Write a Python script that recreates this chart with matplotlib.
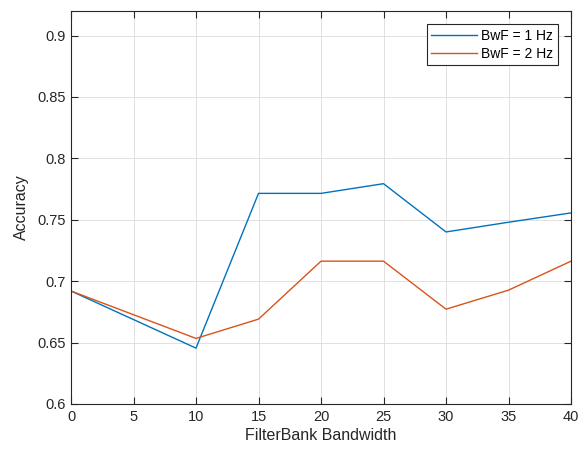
import matplotlib.pyplot as plt

# data
bandwidth = [0, 10, 15, 20, 25, 30, 35, 40]
acc_1hz = [0.692, 0.6455, 0.7715, 0.7715, 0.7794, 0.7401, 0.748, 0.7556]
acc_2hz = [0.692, 0.6534, 0.6691, 0.7163, 0.7163, 0.6772, 0.6927, 0.7163]
x_ticks = [0, 5, 10, 15, 20, 25, 30, 35, 40]
y_ticks = [0.6, 0.65, 0.7, 0.75, 0.8, 0.85, 0.9]
y_tick_labels = ['0.6', '0.65', '0.7', '0.75', '0.8', '0.85', '0.9']

AX_COLOR = '#262626'
BLUE = '#0072BD'
ORANGE = '#D95319'

plt.rcParams['font.family'] = ['Liberation Sans', 'DejaVu Sans']

fig = plt.figure(figsize=(5.85, 4.5), dpi=100)
ax = fig.add_axes([71 / 585, 1 - 404 / 450, 500 / 585, 393 / 450])

ax.plot(bandwidth, acc_1hz, color=BLUE, lw=1.0, label='BwF = 1 Hz')
ax.plot(bandwidth, acc_2hz, color=ORANGE, lw=1.0, label='BwF = 2 Hz')

ax.set_xlim(0, 40)
ax.set_ylim(0.6, 0.92)
ax.set_xticks(x_ticks)
ax.set_yticks(y_ticks)
ax.set_yticklabels(y_tick_labels)

ax.grid(True, color='#dcdcdc', lw=0.6)
ax.set_axisbelow(True)
ax.tick_params(direction='in', top=True, right=True, length=5, width=0.8,
               colors=AX_COLOR, labelsize=10.5, pad=4)
for s in ax.spines.values():
    s.set_color(AX_COLOR)
    s.set_linewidth(0.8)

ax.set_xlabel('FilterBank Bandwidth', fontsize=11.5, color=AX_COLOR, labelpad=3)
ax.set_ylabel('Accuracy', fontsize=11.5, color=AX_COLOR, labelpad=6)

leg = ax.legend(loc='upper right', fontsize=10, fancybox=False, framealpha=1,
                edgecolor=AX_COLOR, borderaxespad=0.95, handlelength=3.3,
                handletextpad=0.3, labelspacing=0.3, borderpad=0.32)
leg.get_frame().set_linewidth(0.8)

fig.savefig('out.png', dpi=100, facecolor='white')
